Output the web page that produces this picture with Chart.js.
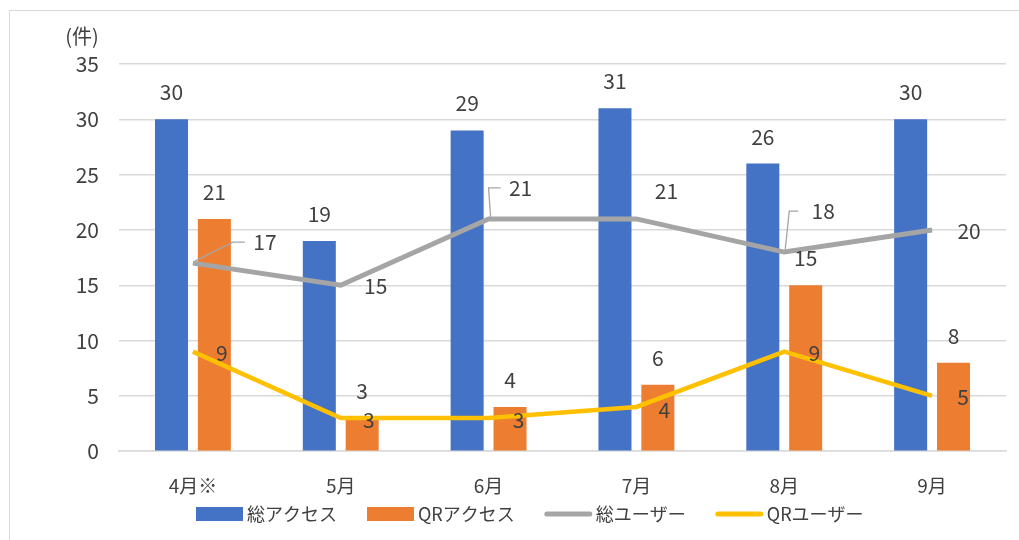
<!DOCTYPE html>
<html><head><meta charset="utf-8">
<script src="https://cdn.jsdelivr.net/npm/chart.js@4"></script>
<style>
html,body{margin:0;padding:0;background:#fff;overflow:hidden}
#wrap{position:relative;width:1019px;height:540px}
#frame{position:absolute;left:9px;top:10px;width:1030px;height:560px;border:1.5px solid #d9d9d9;box-sizing:border-box}
canvas{position:absolute;left:0;top:0}
</style></head><body>
<div id="wrap"><div id="frame"></div><canvas id="c" width="1019" height="540"></canvas></div>
<script>
const categories = ['4月※','5月','6月','7月','8月','9月'];
const totalAccess = [30,19,29,31,26,30];
const qrAccess = [21,3,4,6,15,8];
const totalUsers = [17,15,21,21,18,20];
const qrUsers = [9,3,3,4,9,5];
const yTicks = [0,5,10,15,20,25,30,35];

const FONT = "'Noto Sans CJK JP', 'Noto Sans', sans-serif";
const TXT = '#404040';

// label placement (offsets from the point, in px) for the line series
const lineLabelOffsets = {
  2: [[72,-21,true],[35,1],[32,-31,true],[30,-28],[39,-41,'v'],[37,1]],
  3: [[29,1],[28,2],[30,2],[28,3],[30,1],[31,1]]
};

const labelPlugin = {
  id: 'labels',
  afterDatasetsDraw(chart) {
    const ctx = chart.ctx;
    ctx.save();
    ctx.font = '21px ' + FONT;
    ctx.fillStyle = TXT;
    ctx.textAlign = 'center';
    ctx.textBaseline = 'middle';
    chart.data.datasets.forEach((ds, di) => {
      const meta = chart.getDatasetMeta(di);
      meta.data.forEach((el, i) => {
        const v = ds.data[i];
        if (ds.type === 'bar') {
          ctx.fillText(String(v), el.x, el.y - 27);
        } else {
          const o = lineLabelOffsets[di][i];
          const lx = el.x + o[0], ly = el.y + o[1];
          if (o[2]) {
            ctx.save();
            ctx.strokeStyle = '#a5a5a5';
            ctx.lineWidth = 1.3;
            ctx.beginPath();
            if (o[2] === 'v') {
              ctx.moveTo(el.x + 1, el.y - 3);
              ctx.lineTo(el.x + 5, ly);
              ctx.lineTo(el.x + 14, ly);
            } else {
              ctx.moveTo(el.x + 2, el.y - 2);
              ctx.lineTo(lx - 32, ly);
              ctx.lineTo(lx - 20, ly);
            }
            ctx.stroke();
            ctx.restore();
          }
          ctx.fillText(String(v), lx, ly);
        }
      });
    });
    // axis unit
    ctx.font = '20px ' + FONT;
    ctx.fillText('(件)', 82, 36);

    // legend
    ctx.font = '18px ' + FONT;
    ctx.textAlign = 'left';
    const legendY = 514;
    let x = 196;
    chart.data.datasets.forEach(ds => {
      if (ds.type === 'bar') {
        ctx.fillStyle = ds.backgroundColor;
        ctx.fillRect(x, legendY - 7, 47, 14);
      } else {
        ctx.strokeStyle = ds.borderColor;
        ctx.lineWidth = 5;
        ctx.lineCap = 'round';
        ctx.beginPath();
        ctx.moveTo(x + 2, legendY);
        ctx.lineTo(x + 45, legendY);
        ctx.stroke();
      }
      ctx.fillStyle = TXT;
      ctx.fillText(ds.label, x + 51, legendY);
      x += 51 + ctx.measureText(ds.label).width + 30;
    });
    ctx.restore();
  }
};

new Chart(document.getElementById('c'), {
  data: {
    labels: categories,
    datasets: [
      { type: 'bar', label: '総アクセス', data: totalAccess, backgroundColor: '#4472C4', borderWidth: 0, order: 2, categoryPercentage: 0.58, barPercentage: 0.77 },
      { type: 'bar', label: 'QRアクセス', data: qrAccess, backgroundColor: '#ED7D31', borderWidth: 0, order: 2, categoryPercentage: 0.58, barPercentage: 0.77 },
      { type: 'line', label: '総ユーザー', data: totalUsers, borderColor: '#A5A5A5', backgroundColor: '#A5A5A5', borderWidth: 5, pointRadius: 0, tension: 0, order: 1 },
      { type: 'line', label: 'QRユーザー', data: qrUsers, borderColor: '#FFC000', backgroundColor: '#FFC000', borderWidth: 4.5, pointRadius: 0, tension: 0, order: 0 }
    ]
  },
  options: {
    responsive: false,
    animation: false,
    layout: { padding: { top: 64, right: 13, bottom: 28, left: 0 } },
    plugins: {
      tooltip: { enabled: false },
      legend: { display: false }
    },
    scales: {
      x: {
        grid: { display: false },
        border: { color: '#d9d9d9', width: 1.5 },
        ticks: { font: { family: FONT, size: 19 }, color: TXT, padding: 15 }
      },
      y: {
        min: 0, max: 35,
        afterBuildTicks(scale) { scale.ticks = yTicks.map(v => ({ value: v })); },
        afterFit(scale) { scale.width = 119; },
        grid: { color: '#d9d9d9', lineWidth: 1.5, drawTicks: false },
        border: { display: false },
        ticks: { font: { family: FONT, size: 21 }, color: TXT, padding: 20 }
      }
    }
  },
  plugins: [labelPlugin]
});
</script>
</body></html>
